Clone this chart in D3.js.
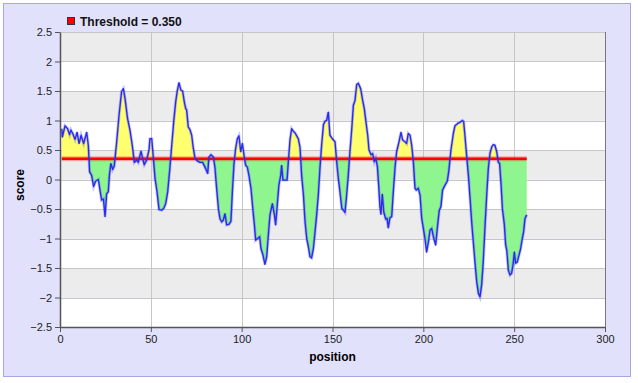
<!DOCTYPE html>
<html>
<head>
<meta charset="utf-8">
<script src="https://cdn.jsdelivr.net/npm/d3@7"></script>
<style>
    body { margin: 0; background: #fff; }
    svg { display: block; font-family: "Liberation Sans", Arial, sans-serif; }
</style>
</head>
<body>
<div id="chart"></div>
<script>
// values
const positions = [1, 1.3, 2.75, 4.2, 5.3, 6, 7.3, 8.3, 9.4, 10.5, 11.6, 13, 14.7, 15.6, 16.3, 17.4, 18.5, 19.6, 21.1, 22, 22.9, 23.9, 24.8, 25.7, 26.6, 27.2, 28, 29, 29.9, 31.2, 32.5, 33.9, 34.9, 35.8, 37.2, 38.5, 39.8, 40.9,
    42.2, 43.1, 44.6, 45.3, 46.4, 47.7, 49, 49.5, 50.5, 51.4, 52.3, 53.4, 54.5, 56, 57.1, 58.2, 59.3, 60.4, 61.5, 62.6, 63.7, 64.6, 65.5, 66.6, 67.5, 68.4, 69.2, 69.7, 70.6, 71.6, 72.5, 73.4, 74.3, 75.8, 77.1, 78.5, 79.8, 81.3, 82, 83.1, 84.4,
    85.3, 86.2, 87.2, 88.1, 89, 89.9, 90.8, 91.7, 93, 94.1, 94.9, 95.8, 96.7, 97.6, 98.5, 99.5, 100.4, 101.3, 102.2, 103.1, 104, 105.1, 106.1, 107, 107.7, 108.8, 109.9, 110.6, 111.7, 112.8, 113.8, 114.7, 115.6, 116.9, 118, 118.7, 119.6, 120.5, 121.5, 122, 122.7, 123.9, 125, 125.7, 126.6, 127.5, 128.4,
    129.4, 130.3, 131.2, 132.1, 133, 134, 134.9, 135.8, 136.7, 137.6, 138.5, 139.5, 140.4, 141.3, 142.2, 143.1, 144, 145, 145.9, 146.8, 147.7, 148.6, 149.5, 150.5, 151.4, 152.3, 153.2, 154.1, 155.1, 156, 156.9, 157.8, 158.7, 159.6, 160.6, 161.5, 162.4, 163.3, 164.2, 165.5, 166.6, 167.5, 168.4, 169.4, 170.1, 171.2, 172.1, 173, 173.8,
    174.7, 175.4, 176.1, 176.7, 177.4, 178.2, 179.3, 180, 180.7, 181.6, 182.6, 183.5, 184.4, 185.3, 186.6, 187.7, 188.6, 189.9, 190.8, 191.7, 192.7, 193.6, 194.5, 195.4, 196.1, 197.2, 198.2, 199.1, 200, 200.9, 201.8, 202.8, 203.7, 204.6, 205.5, 206.8, 207.9, 208.8, 209.7, 210.6, 211.9, 213.2, 214.1, 215.2, 216.5,
    217.4, 218.9, 220.2, 221.5, 222.2, 222.9, 223.9, 224.8, 225.7, 226.6, 227.5, 228.4, 229.4, 230.3, 231.2, 232.1, 233, 233.9, 234.9, 235.8, 236.7, 237.6, 238.5, 239.4, 240.4, 241.3, 242, 242.8, 243.5, 244.6, 245.3, 245.9, 246.8, 247.7, 248.6, 249.5, 250.1, 250.8, 251.7, 252.7, 253.6, 254.5, 255.2, 256, 256.9];

const scores = [0.86, 0.72, 0.91, 0.86, 0.76, 0.84, 0.76, 0.68, 0.8, 0.61, 0.75, 0.61, 0.8, 0.58, 0.13, 0.07, -0.12, -0.03, 0.0, -0.18, -0.35, -0.33, -0.63, -0.24, -0.21, 0.07, 0.27, 0.17, 0.23, 0.64, 1.09, 1.49, 1.54, 1.37, 1.03, 0.84, 0.58, 0.29,
    0.33, 0.29, 0.48, 0.38, 0.25, 0.33, 0.5, 0.69, 0.69, 0.36, 0.02, -0.21, -0.51, -0.52, -0.49, -0.41, -0.21, 0.16, 0.58, 0.98, 1.32, 1.51, 1.64, 1.51, 1.5, 1.32, 1.2, 1.18, 0.89, 0.84, 0.75, 0.53, 0.36, 0.31, 0.29, 0.29, 0.21, 0.1, 0.38, 0.42, 0.38,
    0.2, -0.15, -0.5, -0.67, -0.72, -0.69, -0.58, -0.77, -0.76, -0.71, -0.21, 0.27, 0.53, 0.69, 0.74, 0.47, 0.61, 0.41, 0.24, 0.21, 0.07, -0.15, -0.49, -0.77, -1.03, -1.0, -0.97, -1.17, -1.28, -1.44, -1.31, -0.94, -0.6, -0.41, -0.6, -0.77, -0.44, -0.1, 0.07, 0.24, -0.01, -0.01, -0.01, 0.3, 0.67, 0.86, 0.82,
    0.79, 0.74, 0.69, 0.55, 0.07, -0.27, -0.72, -1.0, -1.14, -1.31, -1.33, -1.17, -0.89, -0.6, -0.27, 0.19, 0.58, 0.93, 0.99, 1.0, 1.14, 0.75, 0.71, 0.67, 0.64, 0.3, 0.02, -0.21, -0.49, -0.52, -0.56, -0.27, 0.07, 0.47, 0.86, 1.26, 1.34, 1.61, 1.63, 1.54, 1.34, 1.2, 0.98, 0.75, 0.5, 0.42, 0.44, 0.3, 0.36,
    0.22, -0.1, -0.46, -0.59, -0.25, -0.55, -0.67, -0.66, -0.82, -0.65, -0.63, -0.21, 0.19, 0.47, 0.64, 0.8, 0.67, 0.64, 0.61, 0.78, 0.75, 0.58, 0.3, -0.15, -0.18, -0.15, -0.27, -0.66, -0.83, -1.0, -1.23, -1.06, -0.86, -0.83, -0.97, -1.11, -0.77, -0.52, -0.46, -0.18, -0.1, -0.03, 0.16, 0.5, 0.78,
    0.91, 0.95, 0.97, 1.0, 0.98, 0.75, 0.38, 0.07, -0.32, -0.72, -1.06, -1.4, -1.74, -1.93, -1.99, -1.79, -1.4, -0.83, -0.27, 0.19, 0.44, 0.55, 0.59, 0.58, 0.47, 0.29, 0.27, -0.1, -0.49, -0.77, -1.11, -1.2, -1.54, -1.62, -1.59, -1.42, -1.23, -1.42, -1.4, -1.28, -1.17, -1.0, -0.89, -0.66, -0.6];

const threshold = 0.35;
const xTicks = [0, 50, 100, 150, 200, 250, 300];
const yTicks = [-2.5, -2, -1.5, -1, -0.5, 0, 0.5, 1, 1.5, 2, 2.5];

const W = 638, H = 383;
const margin = { top: 32, right: 33, bottom: 56, left: 60 };
const width = W - margin.left - margin.right;
const height = H - margin.top - margin.bottom;

const data = positions.map((p, i) => ({ pos: p, score: scores[i] }));

const root = d3.select("#chart").append("svg")
    .attr("width", W)
    .attr("height", H);

// outer panel
root.append("rect")
    .attr("x", 3.5).attr("y", 3.5)
    .attr("width", 627).attr("height", 373)
    .attr("fill", "#e1e1fb")
    .attr("stroke", "#a6a6e2");

const svg = root.append("g")
    .attr("transform", `translate(${margin.left},${margin.top})`);

const x = d3.scaleLinear().domain([0, 300]).range([0, width]);
const y = d3.scaleLinear().domain([-2.5, 2.5]).range([height, 0]);

// alternating bands
svg.selectAll(".band")
    .data(yTicks.slice(0, -1))
    .enter()
    .append("rect")
    .attr("x", 0)
    .attr("y", d => y(d + 0.5))
    .attr("width", width)
    .attr("height", d => y(d) - y(d + 0.5))
    .attr("fill", (d, i) => i % 2 === 1 ? "#ececec" : "#ffffff");

// grid
svg.selectAll(".hgrid")
    .data(yTicks)
    .enter()
    .append("line")
    .attr("x1", 0).attr("x2", width)
    .attr("y1", d => Math.round(y(d)) + 0.5).attr("y2", d => Math.round(y(d)) + 0.5)
    .attr("stroke", "#c6c6c6");

svg.selectAll(".vgrid")
    .data(xTicks.slice(1))
    .enter()
    .append("line")
    .attr("x1", d => Math.round(x(d)) + 0.5).attr("x2", d => Math.round(x(d)) + 0.5)
    .attr("y1", 0).attr("y2", height)
    .attr("stroke", "#c6c6c6");

// filled areas between score and threshold
const tY = y(threshold);
const defs = root.append("defs");
defs.append("clipPath").attr("id", "above")
    .append("rect").attr("x", 0).attr("y", 0).attr("width", width).attr("height", tY);
defs.append("clipPath").attr("id", "below")
    .append("rect").attr("x", 0).attr("y", tY).attr("width", width).attr("height", height - tY);

const area = d3.area()
    .x(d => x(d.pos))
    .y0(tY)
    .y1(d => y(d.score));

svg.append("path")
    .datum(data)
    .attr("clip-path", "url(#above)")
    .attr("fill", "#ffff70")
    .attr("d", area);

svg.append("path")
    .datum(data)
    .attr("clip-path", "url(#below)")
    .attr("fill", "#8ff58f")
    .attr("d", area);

// threshold line
const xStart = positions[0], xEnd = positions[positions.length - 1];
svg.append("line")
    .attr("x1", x(xStart)).attr("x2", x(xEnd))
    .attr("y1", tY).attr("y2", tY)
    .attr("stroke", "rgba(255,0,0,0.3)")
    .attr("stroke-width", 5);
svg.append("line")
    .attr("x1", x(xStart)).attr("x2", x(xEnd))
    .attr("y1", tY).attr("y2", tY)
    .attr("stroke", "#ff0000")
    .attr("stroke-width", 2.5);

// score line
const line = d3.line()
    .x(d => x(d.pos))
    .y(d => y(d.score));

svg.append("path")
    .datum(data)
    .attr("fill", "none")
    .attr("stroke", "rgba(60,60,255,0.3)")
    .attr("stroke-width", 3)
    .attr("d", line);
svg.append("path")
    .datum(data)
    .attr("fill", "none")
    .attr("stroke", "#2b2bf0")
    .attr("stroke-width", 1.4)
    .attr("stroke-linejoin", "round")
    .attr("d", line);

// right border
svg.append("line")
    .attr("x1", width + 0.5).attr("x2", width + 0.5)
    .attr("y1", 0).attr("y2", height)
    .attr("stroke", "#777");

// axes
const yAxis = svg.append("g")
    .call(d3.axisLeft(y).tickValues(yTicks).tickSize(5).tickSizeOuter(0).tickFormat(d3.format("")));
const xAxis = svg.append("g")
    .attr("transform", `translate(0,${height})`)
    .call(d3.axisBottom(x).tickValues(xTicks).tickSize(5).tickSizeOuter(0));

[yAxis, xAxis].forEach(g => {
    g.select(".domain").attr("stroke", "#555").attr("stroke-width", 1.5);
    g.selectAll(".tick line").attr("stroke", "#555");
    g.selectAll("text").attr("fill", "#222").style("font-size", "11px")
        .style("font-family", "'Liberation Sans', Arial, sans-serif");
});
yAxis.selectAll("text").attr("x", -8);
xAxis.selectAll("text").attr("y", 8);

// axis titles
svg.append("text")
    .attr("transform", "rotate(-90)")
    .attr("x", -153)
    .attr("y", -36)
    .attr("text-anchor", "middle")
    .style("font-size", "12px")
    .style("font-weight", "bold")
    .text("score");

svg.append("text")
    .attr("x", width / 2)
    .attr("y", height + 34)
    .attr("text-anchor", "middle")
    .style("font-size", "12px")
    .style("font-weight", "bold")
    .text("position");

// legend
root.append("rect")
    .attr("x", 67.5).attr("y", 17.5)
    .attr("width", 7).attr("height", 7)
    .attr("fill", "#ff0000")
    .attr("stroke", "#333");
root.append("text")
    .attr("x", 80)
    .attr("y", 26)
    .style("font-size", "12px")
    .style("font-weight", "bold")
    .attr("fill", "#111")
    .text("Threshold = 0.350");
</script>
</body>
</html>
